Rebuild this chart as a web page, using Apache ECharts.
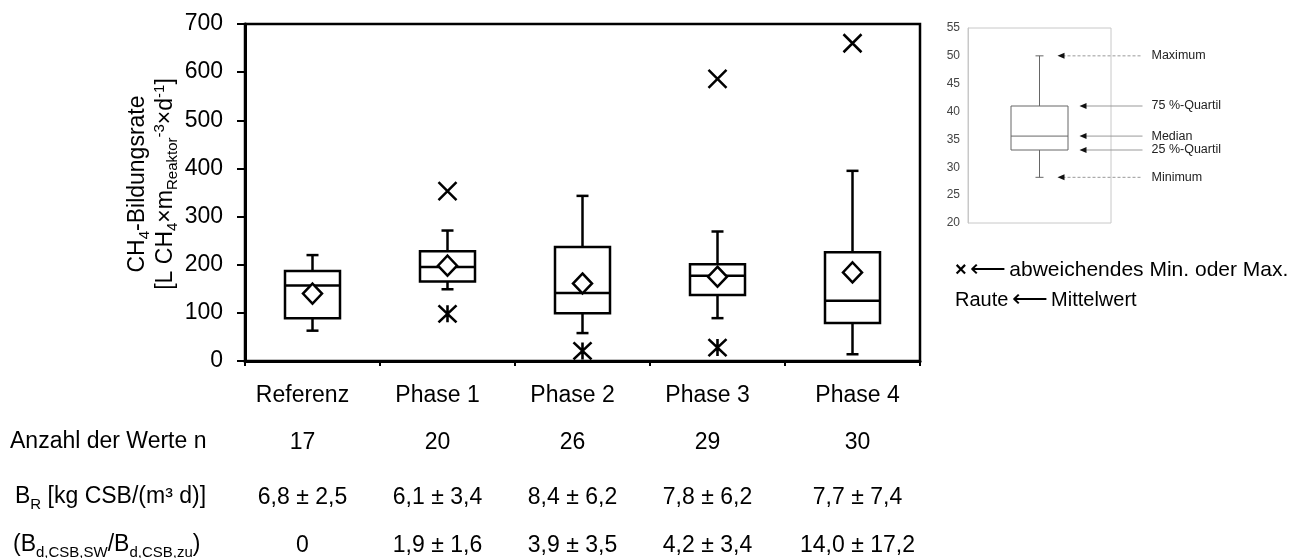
<!DOCTYPE html>
<html>
<head>
<meta charset="utf-8">
<script src="https://cdn.jsdelivr.net/npm/echarts@6/dist/echarts.min.js"></script>
<style>
  html, body { margin: 0; padding: 0; background: #fff; }
  #main { width: 1313px; height: 558px; }
</style>
</head>
<body>
<div id="main"></div>
<script>
// Kategorien und Tabellenzeilen
var kategorien = ['Referenz', 'Phase 1', 'Phase 2', 'Phase 3', 'Phase 4'];
var anzahlWerte = ['17', '20', '26', '29', '30'];
var raumBelastung = ['6,8 \u00b1 2,5', '6,1 \u00b1 3,4', '8,4 \u00b1 6,2', '7,8 \u00b1 6,2', '7,7 \u00b1 7,4'];
var verhaeltnis = ['0', '1,9 \u00b1 1,6', '3,9 \u00b1 3,5', '4,2 \u00b1 3,4', '14,0 \u00b1 17,2'];

// Boxplot-Werte [min, Q1, Median, Q3, max] in L CH4/(m3 d)
var boxMin    = [63, 149, 58, 89, 14];
var boxQ1     = [89, 165, 99, 137, 79];
var boxMedian = [157, 195, 141, 177, 125];
var boxQ3     = [187, 228, 237, 201, 226];
var boxMax    = [220, 271, 343, 269, 395];
var mittelwert = [140, 198, 161, 175, 184];

// abweichende Werte: [Kategorie, Wert]
var ausreisserMax = [[1, 353], [3, 586], [4, 660]];
var ausreisserMin = [[1, 98], [2, 21], [3, 28]];

// Legenden-Boxplot (Erklaerung)
var legendeBox = [28.2, 33.1, 35.6, 41, 50];
var legendeNamen = ['Maximum', '75 %-Quartil', 'Median', '25 %-Quartil', 'Minimum'];
var legendeWerte = [50, 41, 35.6, 33.1, 28.2];

var myChart = echarts.init(document.getElementById('main'));
var FONT = '"Liberation Sans", Arial, sans-serif';

function boxDaten() {
    var d = [];
    for (var i = 0; i < kategorien.length; i++) {
        d.push([i, boxMin[i], boxQ1[i], boxMedian[i], boxQ3[i], boxMax[i]]);
    }
    return d;
}

// zeichnet einen Boxplot mit kurzen Whisker-Enden
function boxRenderer(halbBreite, kappe, stil) {
    return function (params, api) {
        var x = api.value(0);
        var pMin = api.coord([x, api.value(1)]);
        var pQ1 = api.coord([x, api.value(2)]);
        var pMed = api.coord([x, api.value(3)]);
        var pQ3 = api.coord([x, api.value(4)]);
        var pMax = api.coord([x, api.value(5)]);
        var cx = pMin[0];
        var linie = function (x1, y1, x2, y2) {
            return { type: 'line', shape: { x1: x1, y1: y1, x2: x2, y2: y2 }, style: { stroke: stil.stroke, lineWidth: stil.lineWidth } };
        };
        return {
            type: 'group',
            children: [
                linie(cx, pMax[1], cx, pQ3[1]),
                linie(cx, pQ1[1], cx, pMin[1]),
                linie(cx - kappe, pMax[1], cx + kappe, pMax[1]),
                linie(cx - kappe, pMin[1], cx + kappe, pMin[1]),
                { type: 'rect', shape: { x: cx - halbBreite, y: pQ3[1], width: halbBreite * 2, height: pQ1[1] - pQ3[1] },
                  style: { fill: '#fff', stroke: stil.stroke, lineWidth: stil.lineWidth } },
                linie(cx - halbBreite, pMed[1], cx + halbBreite, pMed[1])
            ]
        };
    };
}

// Pfeile und Beschriftungen im Erklaerungsbild
function legendeRenderer(params, api) {
    var idx = params.dataIndex;
    var p = api.coord([0, api.value(1)]);
    var aussen = (idx === 0 || idx === 4);
    var spitze = p[0] + (aussen ? 18 : 40);
    var ende = p[0] + 103;
    return {
        type: 'group',
        children: [
            { type: 'line', shape: { x1: spitze + 5, y1: p[1], x2: ende, y2: p[1] },
              style: { stroke: '#999', lineWidth: 1, lineDash: aussen ? [3, 2] : null } },
            { type: 'polygon', shape: { points: [[spitze, p[1]], [spitze + 7, p[1] - 3], [spitze + 7, p[1] + 3]] },
              style: { fill: '#111' } },
            { type: 'text', x: ende + 9, y: p[1], style: { text: legendeNamen[idx], fill: '#222',
              font: '12.5px ' + FONT, verticalAlign: 'middle', align: 'left' } }
        ]
    };
}

var mittelwertDaten = mittelwert.map(function (v, i) { return [i, v]; });

var achsRich = {};
['c', 'n', 'b', 'v'].forEach(function (k, j) {
    var lh = [56, 38, 72, 24][j];
    achsRich[k] = { fontSize: 23, fontFamily: FONT, color: '#000', lineHeight: lh, padding: [0, 20, 0, 0] };
    achsRich[k + 'L'] = { fontSize: 23, fontFamily: FONT, color: '#000', lineHeight: lh, padding: [0, 0, 0, 10] };
});

var option = {
    animation: false,
    backgroundColor: '#fff',
    grid: [
        { left: 245, right: 393, top: 24, bottom: 197, show: true, borderColor: '#000', borderWidth: 2.5, outerBoundsMode: 'none' },
        { left: 968, width: 143, top: 28, height: 195, show: true, borderColor: '#c8c8c8', borderWidth: 1, outerBoundsMode: 'none' }
    ],
    xAxis: [
        {
            type: 'category', gridIndex: 0, data: kategorien, boundaryGap: true,
            axisLine: { lineStyle: { color: '#000', width: 3 } },
            axisTick: { show: true, length: 5, lineStyle: { color: '#000', width: 2 } },
            axisLabel: {
                margin: 7, interval: 0,
                formatter: function (val, idx) {
                    var s = idx === kategorien.length - 1 ? 'L' : '';
                    return '{c' + s + '|' + val + '}\n{n' + s + '|' + anzahlWerte[idx] + '}\n{b' + s + '|' +
                        raumBelastung[idx] + '}\n{v' + s + '|' + verhaeltnis[idx] + '}';
                },
                rich: achsRich
            },
            splitLine: { show: false }
        },
        {
            type: 'category', gridIndex: 1, data: ['x'],
            axisLine: { show: false }, axisTick: { show: false }, axisLabel: { show: false }, splitLine: { show: false }
        }
    ],
    yAxis: [
        {
            type: 'value', gridIndex: 0, min: 0, max: 700, interval: 100,
            axisLine: { show: true, lineStyle: { color: '#000', width: 3 } },
            axisTick: { show: true, inside: false, length: 8, lineStyle: { color: '#000', width: 2 } },
            axisLabel: { margin: 22, fontSize: 23, fontFamily: FONT, color: '#000' },
            splitLine: { show: false }
        },
        {
            type: 'value', gridIndex: 1, min: 20, max: 55, interval: 5,
            axisLine: { show: true, lineStyle: { color: '#c8c8c8', width: 1 } },
            axisTick: { show: false },
            axisLabel: { margin: 8, fontSize: 12, fontFamily: FONT, color: '#444' },
            splitLine: { show: false }
        }
    ],
    series: [
        {
            name: 'Box', type: 'custom', xAxisIndex: 0, yAxisIndex: 0,
            renderItem: boxRenderer(27.5, 6, { stroke: '#000', lineWidth: 2.5 }),
            data: boxDaten(), z: 2
        },
        {
            name: 'Mittelwert', type: 'scatter', xAxisIndex: 0, yAxisIndex: 0,
            symbol: 'diamond', symbolSize: [19, 20], data: mittelwertDaten,
            itemStyle: { color: '#fff', borderColor: '#000', borderWidth: 2.5, opacity: 1 }, z: 5
        },
        {
            name: 'Max abweichend', type: 'scatter', xAxisIndex: 0, yAxisIndex: 0,
            symbol: 'path://M0,0L10,10M10,0L0,10', symbolSize: 18, data: ausreisserMax,
            itemStyle: { color: 'rgba(0,0,0,0)', borderColor: '#000', borderWidth: 2.5, opacity: 1 }, z: 5
        },
        {
            name: 'Min abweichend', type: 'scatter', xAxisIndex: 0, yAxisIndex: 0,
            symbol: 'path://M0,0L10,10M10,0L0,10M5,0L5,10', symbolSize: [18, 17], data: ausreisserMin,
            itemStyle: { color: 'rgba(0,0,0,0)', borderColor: '#000', borderWidth: 2.5, opacity: 1 }, z: 5
        },
        {
            name: 'Legende Box', type: 'custom', xAxisIndex: 1, yAxisIndex: 1,
            renderItem: boxRenderer(28.5, 4, { stroke: '#666', lineWidth: 1 }),
            data: [[0].concat(legendeBox)], z: 2
        },
        {
            name: 'Legende Pfeile', type: 'custom', xAxisIndex: 1, yAxisIndex: 1, clip: false,
            renderItem: legendeRenderer,
            data: legendeWerte.map(function (v) { return [0, v]; }), z: 3
        }
    ],
    graphic: [
        {
            type: 'text', x: 152, y: 184, rotation: Math.PI / 2,
            style: {
                text: '{t|CH}{s|4}{t|-Bildungsrate}\n{t|[L CH}{s|4}{t|\u00d7m}{s|Reaktor}{p|-3}{t|\u00d7d}{p|-1}{t|]}',
                align: 'center', verticalAlign: 'middle',
                rich: {
                    t: { fontSize: 23, fontFamily: FONT, fill: '#000', lineHeight: 28 },
                    s: { fontSize: 15, fontFamily: FONT, fill: '#000', lineHeight: 14, verticalAlign: 'bottom' },
                    p: { fontSize: 15, fontFamily: FONT, fill: '#000', lineHeight: 14, verticalAlign: 'top' }
                }
            }
        },
        {
            type: 'text', x: 10, y: 442,
            style: { text: 'Anzahl der Werte n', font: '23px ' + FONT, fill: '#000', verticalAlign: 'middle' }
        },
        {
            type: 'text', x: 15, y: 497,
            style: {
                text: '{t|B}{s|R}{t| [kg CSB/(m\u00b3 d)]}', verticalAlign: 'middle',
                rich: {
                    t: { fontSize: 23, fontFamily: FONT, fill: '#000', lineHeight: 30 },
                    s: { fontSize: 15, fontFamily: FONT, fill: '#000', lineHeight: 14, verticalAlign: 'bottom' }
                }
            }
        },
        {
            type: 'text', x: 13, y: 545,
            style: {
                text: '{t|(B}{s|d,CSB,SW}{t|/B}{s|d,CSB,zu}{t|)}', verticalAlign: 'middle',
                rich: {
                    t: { fontSize: 23, fontFamily: FONT, fill: '#000', lineHeight: 30 },
                    s: { fontSize: 15, fontFamily: FONT, fill: '#000', lineHeight: 14, verticalAlign: 'bottom' }
                }
            }
        },
        {
            type: 'text', x: 955, y: 270,
            style: {
                text: '{x|\u00d7} {a|\u27f5} {t|abweichendes Min. oder Max.}', verticalAlign: 'middle',
                rich: {
                    x: { fontSize: 20, fontWeight: 'bold', fontFamily: FONT, fill: '#000' },
                    a: { fontSize: 25, fontFamily: FONT, fill: '#000' },
                    t: { fontSize: 21, fontFamily: FONT, fill: '#000' }
                }
            }
        },
        {
            type: 'text', x: 955, y: 300,
            style: {
                text: '{t|Raute} {a|\u27f5} {t|Mittelwert}', verticalAlign: 'middle',
                rich: {
                    a: { fontSize: 25, fontFamily: FONT, fill: '#000' },
                    t: { fontSize: 20, fontFamily: FONT, fill: '#000' }
                }
            }
        }
    ]
};

myChart.setOption(option);
</script>
</body>
</html>
